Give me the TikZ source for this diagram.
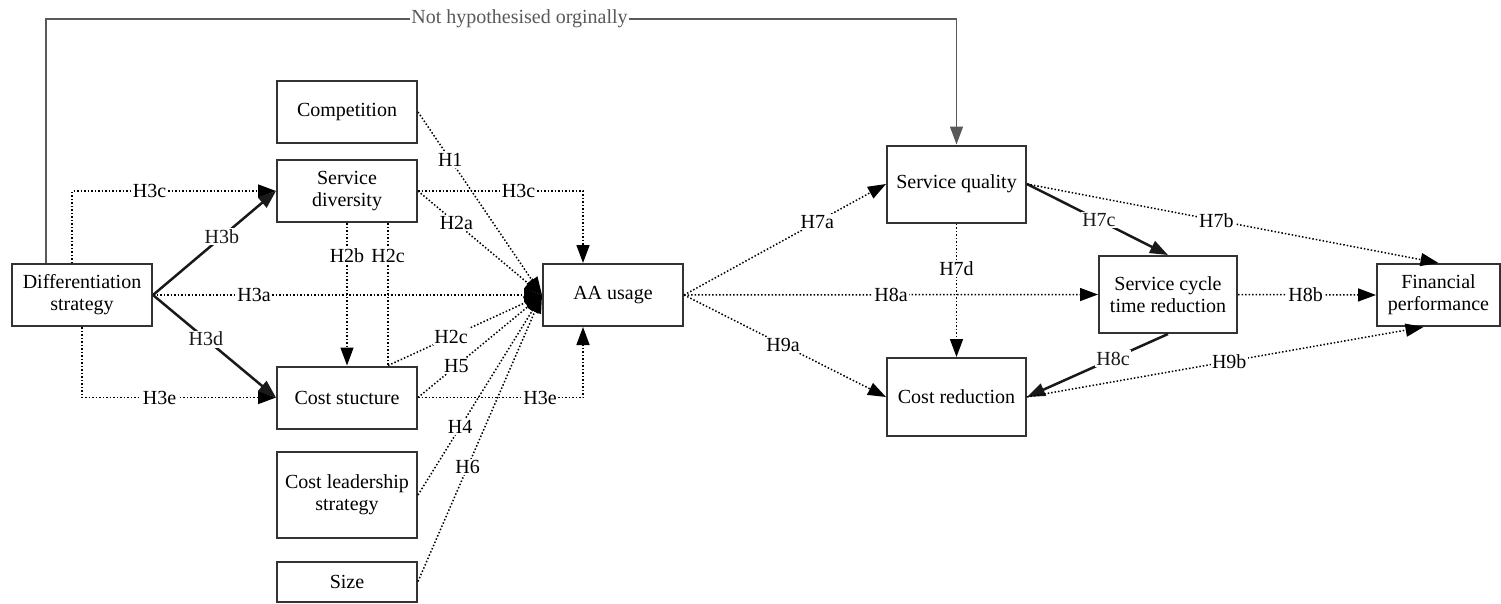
\documentclass[tikz,border=0pt]{standalone}
\usepackage{fontspec}
\setmainfont{Liberation Serif}
\usetikzlibrary{arrows.meta}
\begin{document}
\begin{tikzpicture}[x=1pt,y=-1pt,
  >={Triangle[length=18pt,width=13pt]},
  every node/.style={font=\fontsize{20pt}{22pt}\selectfont},
  box/.style={draw=black!80,line width=2pt,fill=white,align=center,inner sep=0pt,minimum width=140pt},
  lab/.style={fill=white,inner sep=1.5pt},
  dotln/.style={black,line width=1.5pt,dash pattern=on 1.5pt off 2pt},
  strong/.style={black!90,line width=2.5pt},
  orig/.style={black!65,line width=1.2pt}]
\useasboundingbox (0,0) rectangle (1501,603);

% constructs
\node[box,minimum height=62pt] (diff) at (82,295) {Differentiation\\strategy};
\node[box,minimum height=62pt] (comp) at (347,112) {Competition};
\node[box,minimum height=62pt] (sdiv) at (347,191) {Service\\diversity};
\node[box,minimum height=62pt] (cost) at (347,397.5) {Cost stucture};
\node[box,minimum height=86pt] (cls) at (347,495) {Cost leadership\\strategy};
\node[box,minimum height=40pt] (size) at (347,581.5) {Size};
\node[box,minimum height=62pt] (aa) at (613,295) {AA usage};
\node[box,minimum width=139pt,minimum height=77pt] (sq) at (956.5,184) {Service quality};
\node[box,minimum width=138pt,minimum height=77pt] (scr) at (1168,294.5) {Service cycle\\time reduction};
\node[box,minimum width=123pt,minimum height=62pt] (fin) at (1438.5,295) {Financial\\performance};
\node[box,minimum width=139pt,minimum height=78pt] (cred) at (956.5,397) {Cost reduction};

% path added after the original hypotheses
\coordinate (nl) at (46,19);
\coordinate (nr) at (956.5,19);
\draw[orig,->] (diff.north -| nl) -- (nl) -- node[lab,pos=0.52]{Not hypothesised orginally} (nr) -- (sq.north);

% differentiation strategy
\draw[dotln,->] ([xshift=-10pt]diff.north) |- node[lab,pos=0.69]{H3c} (sdiv.west);
\draw[dotln,->] (diff.south) |- node[lab,pos=0.70]{H3e} (cost.west);
\draw[strong,->] (diff.east) -- node[lab,pos=0.56]{H3b} (sdiv.west);
\draw[dotln,->] (diff.east) -- node[lab,pos=0.26]{H3a} (aa.west);
\draw[strong,->] (diff.east) -- node[lab,pos=0.43]{H3d} (cost.west);

% antecedents of AA usage
\draw[dotln,->] (sdiv.east) -| node[lab,pos=0.305]{H3c} ([xshift=-30pt]aa.north);
\draw[dotln,->] (cost.east) -| node[lab,pos=0.37]{H3e} ([xshift=-30pt]aa.south);
\draw[dotln,->] (sdiv.south) -- node[lab,pos=0.23]{H2b} (cost.north);
\draw[dotln] ([xshift=41pt]sdiv.south) -- node[lab,pos=0.23]{H2c} ([xshift=41pt]cost.north);
\draw[dotln,->] ([xshift=41pt]cost.north) -- node[lab,pos=0.41]{H2c} (aa.west);
\draw[dotln,->] (comp.east) -- node[lab,pos=0.26]{H1} (aa.west);
\draw[dotln,->] (sdiv.east) -- node[lab,pos=0.31]{H2a} (aa.west);
\draw[dotln,->] (cost.east) -- node[lab,pos=0.31]{H5} (aa.west);
\draw[dotln,->] (cls.east) -- node[lab,pos=0.34]{H4} (aa.west);
\draw[dotln,->] (size.east) -- node[lab,pos=0.40]{H6} (aa.west);

% outcomes
\draw[dotln,->] (aa.east) -- node[lab,pos=0.66]{H7a} (sq.west);
\draw[dotln,->] (aa.east) -- node[lab,pos=0.50]{H8a} (scr.west);
\draw[dotln,->] (aa.east) -- node[lab,pos=0.49]{H9a} (cred.west);
\draw[dotln,->] (sq.south) -- node[lab,pos=0.34]{H7d} (cred.north);
\draw[strong,->] (sq.east) -- node[lab,pos=0.51]{H7c} (scr.north);
\draw[dotln,->] (sq.east) -- node[lab,pos=0.46]{H7b} (fin.north);
\draw[dotln,->] (scr.east) -- node[lab,pos=0.49]{H8b} (fin.west);
\draw[strong,->] (scr.south) -- node[lab,pos=0.39]{H8c} (cred.east);
\draw[dotln,->] (cred.east) -- node[lab,pos=0.51]{H9b} ([xshift=-15pt]fin.south);
\end{tikzpicture}
\end{document}
